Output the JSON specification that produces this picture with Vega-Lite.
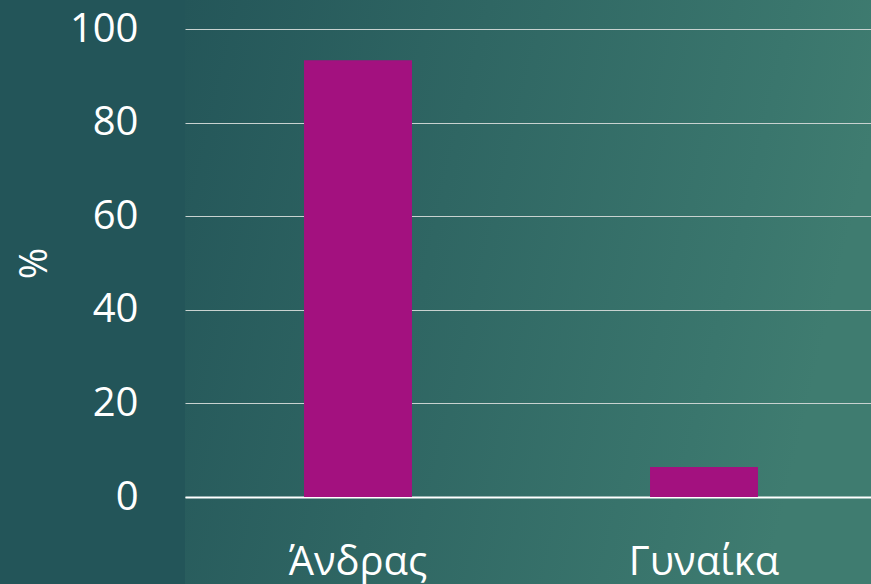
{
  "$schema": "https://vega.github.io/schema/vega-lite/v6.json",
  "width": 692,
  "height": 584,
  "autosize": {"type": "none"},
  "padding": {"left": 185, "top": 0, "right": 0, "bottom": 0},
  "background": "#235559",
  "config": {
    "view": {"stroke": null, "fill": {"gradient": "linear", "x1": 0, "y1": 0, "x2": 1, "y2": 0.2, "stops": [{"offset": 0, "color": "#245659"}, {"offset": 0.85, "color": "#3a766d"}, {"offset": 1, "color": "#3f7c70"}]}},
    "font": "Open Sans"
  },
  "data": {"values": [
    {"sex": "Άνδρας", "pct": 93.3},
    {"sex": "Γυναίκα", "pct": 6.4}
  ]},
  "mark": {"type": "bar", "color": "#a3117f"},
  "encoding": {
    "x": {
      "field": "sex", "type": "nominal", "sort": null,
      "scale": {"paddingInner": 0.688, "paddingOuter": 0.344},
      "axis": {"title": null, "offset": -87, "labelAngle": 0, "labelFontSize": 40, "labelColor": "#ffffff", "labelBaseline": "alphabetic", "labelPadding": 77, "ticks": false, "domainColor": "#ffffff", "domainWidth": 2, "grid": false}
    },
    "y": {
      "field": "pct", "type": "quantitative",
      "scale": {"domain": [-18.59, 106.2], "nice": false, "zero": false},
      "axis": {"title": "%", "values": [0, 20, 40, 60, 80, 100], "labelFontSize": 40, "labelColor": "#ffffff", "labelPadding": 47, "labelBaseline": "middle", "ticks": false, "domain": false, "gridColor": "#c8d2d0", "gridWidth": 1, "titleFontSize": 38, "titleColor": "#ffffff", "titleFontWeight": "normal", "titleAngle": -90, "titleX": -150, "titleY": 263, "titleAlign": "center", "titleBaseline": "middle"}
    }
  }
}
